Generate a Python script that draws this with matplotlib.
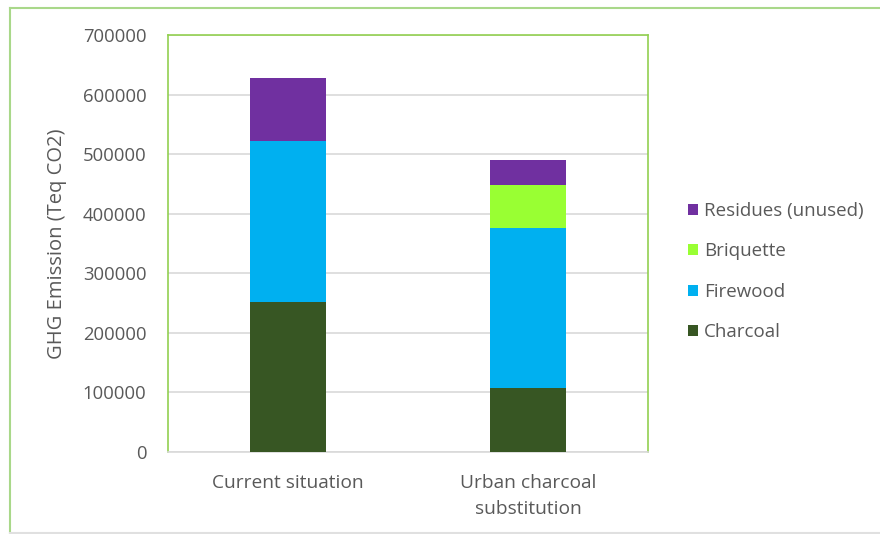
import matplotlib
matplotlib.use("Agg")
import matplotlib.pyplot as plt
from matplotlib.lines import Line2D
from matplotlib.patches import Patch
import numpy as np

categories = ["Current situation", "Urban charcoal\nsubstitution"]
series_names = ["Charcoal", "Firewood", "Briquette", "Residues (unused)"]
charcoal = [252000, 107000]
firewood = [270500, 269500]
briquette = [0, 71000]
residues = [106000, 42000]
colors = ["#375623", "#00B0F0", "#99FF33", "#7030A0"]
yticks = [0, 100000, 200000, 300000, 400000, 500000, 600000, 700000]

plt.rcParams['font.family'] = ['Open Sans', 'DejaVu Sans']
W, H = 880, 534
fig = plt.figure(figsize=(8.8, 5.34), dpi=100)
ax = fig.add_axes([168 / W, (H - 452) / H, 480 / W, 417 / H])

x = np.arange(len(categories))
bottom = np.zeros(len(categories))
handles = []
for name, vals, c in zip(series_names, [charcoal, firewood, briquette, residues], colors):
    vals = np.array(vals, dtype=float)
    ax.bar(x, vals, bottom=bottom, width=0.32, color=c, zorder=3)
    bottom += vals
    handles.append(Patch(facecolor=c, label=name))

ax.set_xlim(-0.5, 1.5)
ax.set_ylim(0, 700000)
ax.set_yticks(yticks)
ax.set_yticklabels([str(v) for v in yticks], fontsize=13.3, color="#595959")
ax.set_xticks(x)
ax.set_xticklabels(categories, fontsize=13.8, color="#595959", linespacing=1.55)
ax.tick_params(axis='y', length=0, pad=15.5)
ax.tick_params(axis='x', length=0, pad=16)
ax.yaxis.grid(True, color="#D9D9D9", linewidth=1.2, zorder=0)
for s in ax.spines.values():
    s.set_color("#92D050")
    s.set_linewidth(1.2)
ax.spines['bottom'].set_color("#D9D9D9")
ax.set_ylabel("GHG Emission (Teq CO2)", fontsize=14.5, color="#595959", labelpad=11.5)

leg = fig.legend(handles=handles[::-1], loc='upper left', bbox_to_anchor=(671 / W, 1 - 185 / H),
                 frameon=False, fontsize=13.5, handlelength=0.55, handleheight=0.55,
                 labelspacing=1.2, handletextpad=0.3, labelcolor="#595959")

# outer chart border
fig.add_artist(Line2D([10 / W, 10 / W], [1 - 8 / H, 1 - 533 / H], color="#A9D88A", linewidth=1.5))
fig.add_artist(Line2D([10 / W, 1.0], [1 - 8 / H, 1 - 8 / H], color="#A9D88A", linewidth=1.5))
fig.add_artist(Line2D([10 / W, 1.0], [1 - 532.5 / H, 1 - 532.5 / H], color="#E0E0E0", linewidth=1.5))

fig.savefig("out.png", dpi=100)
